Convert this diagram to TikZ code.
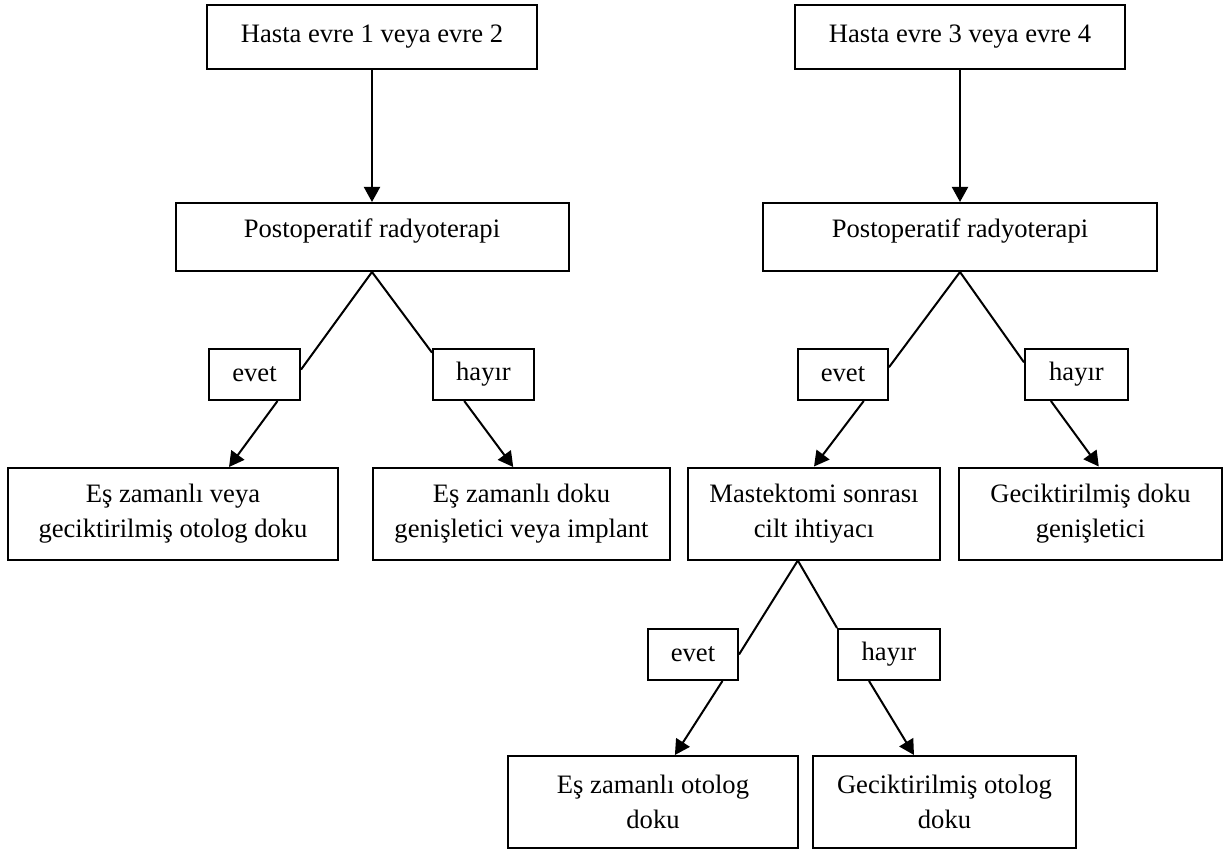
\documentclass[tikz,border=0pt]{standalone}
\usepackage{fontspec}
\setmainfont{Liberation Serif}
\usetikzlibrary{arrows.meta}

\tikzset{
  box/.style={draw, line width=1pt, align=center, inner sep=0pt,
    font=\fontsize{13.3}{17.5}\selectfont},
  link/.style={line width=1pt},
  arr/.style={line width=1pt, -{Triangle[width=8pt,length=7.5pt]}}
}

\begin{document}
\begin{tikzpicture}[x=0.5pt,y=-0.5pt]
  \useasboundingbox (0,0) rectangle (1227,850);

  % first column
  \node[box, minimum width=165pt, minimum height=32pt] (top1) at (372,37) {Hasta evre 1 veya evre 2};
  \node[box, minimum width=196.5pt, minimum height=34pt, text height=9pt, text depth=8pt] (post1) at (372,237) {Postoperatif radyoterapi};
  \node[box, minimum width=45.5pt, minimum height=25.5pt] (evet1) at (254.5,374.5) {evet};
  \node[box, minimum width=50.5pt, minimum height=25.5pt] (hayir1) at (483.5,374.5) {hayır};
  \node[box, minimum width=165pt, minimum height=46pt] (otolog1) at (173,514) {Eş zamanlı veya\\geciktirilmiş otolog doku};
  \node[box, minimum width=148.5pt, minimum height=46pt] (implant) at (521.5,514) {Eş zamanlı doku\\genişletici veya implant};

  \draw [arr] (top1.south) -- (post1.north);
  \draw [link] (post1.south) -- (evet1.6);
  \draw [arr] (evet1.-49) -- (otolog1.40);
  \draw [link] (post1.south) -- (hayir1.157);
  \draw [arr] (hayir1.-126) -- (implant.100);

  % second column
  \node[box, minimum width=165pt, minimum height=32pt] (top2) at (960,37) {Hasta evre 3 veya evre 4};
  \node[box, minimum width=197pt, minimum height=34pt, text height=9pt, text depth=8pt] (post2) at (960,237) {Postoperatif radyoterapi};
  \node[box, minimum width=45pt, minimum height=25.5pt] (evet2) at (843,374.5) {evet};
  \node[box, minimum width=51.5pt, minimum height=25.5pt] (hayir2) at (1076.5,374.5) {hayır};
  \node[box, minimum width=126pt, minimum height=46pt] (cilt) at (814,513.5) {Mastektomi sonrası\\cilt ihtiyacı};
  \node[box, minimum width=131.5pt, minimum height=46pt] (genis) at (1090.5,513.5) {Geciktirilmiş doku\\genişletici};
  \node[box, minimum width=45pt, minimum height=25.5pt] (evet3) at (693,654.5) {evet};
  \node[box, minimum width=51pt, minimum height=25.5pt] (hayir3) at (889,654.5) {hayır};
  \node[box, minimum width=145pt, minimum height=46pt] (eszaman) at (653,802) {Eş zamanlı otolog\\doku};
  \node[box, minimum width=131.5pt, minimum height=46pt] (gecik) at (944.5,802) {Geciktirilmiş otolog\\doku};

  \draw [arr] (top2.south) -- (post2.north);
  \draw [link] (post2.south) -- (evet2.9);
  \draw [arr] (evet2.-52) -- (cilt.north);
  \draw [link] (post2.south) -- (hayir2.167);
  \draw [arr] (hayir2.-134) -- (genis.80);

  \draw [link] (cilt.-109) -- (evet3.east);
  \draw [arr] (evet3.-42) -- (eszaman.65);
  \draw [link] (cilt.-109) -- (hayir3.north west);
  \draw [arr] (hayir3.-127) -- (gecik.123);
\end{tikzpicture}
\end{document}
